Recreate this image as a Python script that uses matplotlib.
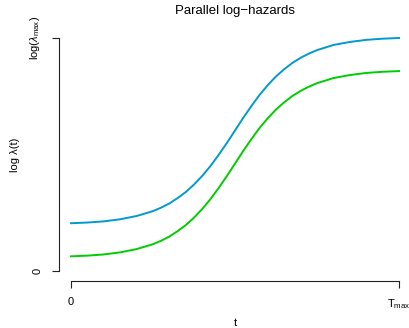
import matplotlib
matplotlib.use('Agg')
import matplotlib.pyplot as plt

plt.rcParams.update({
    'font.family': ['Liberation Sans', 'DejaVu Sans'],
    'mathtext.fontset': 'custom',
    'mathtext.rm': 'Liberation Sans',
    'mathtext.it': 'Liberation Sans:italic',
})

# values (x as fraction of T_max, y as fraction of log(lambda_max))
t_vals = [0.00, 0.05, 0.10, 0.15, 0.20, 0.25, 0.275, 0.30, 0.325, 0.35, 0.375,
          0.40, 0.425, 0.45, 0.475, 0.50, 0.525, 0.55, 0.575, 0.60, 0.625,
          0.65, 0.675, 0.70, 0.725, 0.75, 0.80, 0.85, 0.90, 0.95, 1.00]
upper = [0.205, 0.208, 0.213, 0.222, 0.236, 0.257, 0.272, 0.290, 0.313, 0.339,
         0.371, 0.408, 0.450, 0.498, 0.549, 0.603, 0.657, 0.708, 0.756, 0.798,
         0.835, 0.866, 0.893, 0.915, 0.933, 0.948, 0.970, 0.983, 0.992, 0.997,
         1.000]
lower = [0.063, 0.066, 0.071, 0.080, 0.094, 0.115, 0.130, 0.148, 0.171, 0.197,
         0.229, 0.266, 0.308, 0.356, 0.407, 0.461, 0.515, 0.566, 0.614, 0.656,
         0.693, 0.724, 0.751, 0.773, 0.791, 0.806, 0.828, 0.841, 0.850, 0.855,
         0.858]

x_ticks = [0, 1]
x_ticklabels = ['0', r'T$_{\mathrm{max}}$']
y_ticks = [0, 1]
y_ticklabels = ['0', r'log($\lambda_{\mathrm{max}}$)']

fig = plt.figure(figsize=(4.1, 3.28), dpi=100)
ax = fig.add_axes([71 / 410, 57 / 328, 328 / 410, 233 / 328])

ax.plot(t_vals, upper, color='#009ACD', lw=1.4, clip_on=False,
        solid_joinstyle='round')
ax.plot(t_vals, lower, color='#00CD00', lw=1.4, clip_on=False,
        solid_joinstyle='round')

ax.set_xlim(0, 1); ax.set_ylim(0, 1)
for s in ['top', 'right']:
    ax.spines[s].set_visible(False)
ax.spines['left'].set_position(('outward', 8.6))
ax.spines['bottom'].set_position(('outward', 7))
ax.spines['left'].set_bounds(0, 1)
ax.spines['bottom'].set_bounds(0, 1)
for s in ['left', 'bottom']:
    ax.spines[s].set_linewidth(0.8)
    ax.spines[s].set_color('#222222')

ax.set_xticks(x_ticks)
ax.set_xticklabels(x_ticklabels, fontsize=8)
ax.set_yticks(y_ticks)
ax.set_yticklabels(y_ticklabels, fontsize=8, rotation=90, va='center')
ax.tick_params(length=5, width=0.8, color='#222222', pad=7)

ax.set_xlabel('t', fontsize=8, labelpad=5)
ax.set_ylabel('log λ(t)', fontsize=8, labelpad=6)
ax.set_title('Parallel log\u2212hazards', fontsize=9.5, pad=17)

plt.savefig('out.png', dpi=100)
